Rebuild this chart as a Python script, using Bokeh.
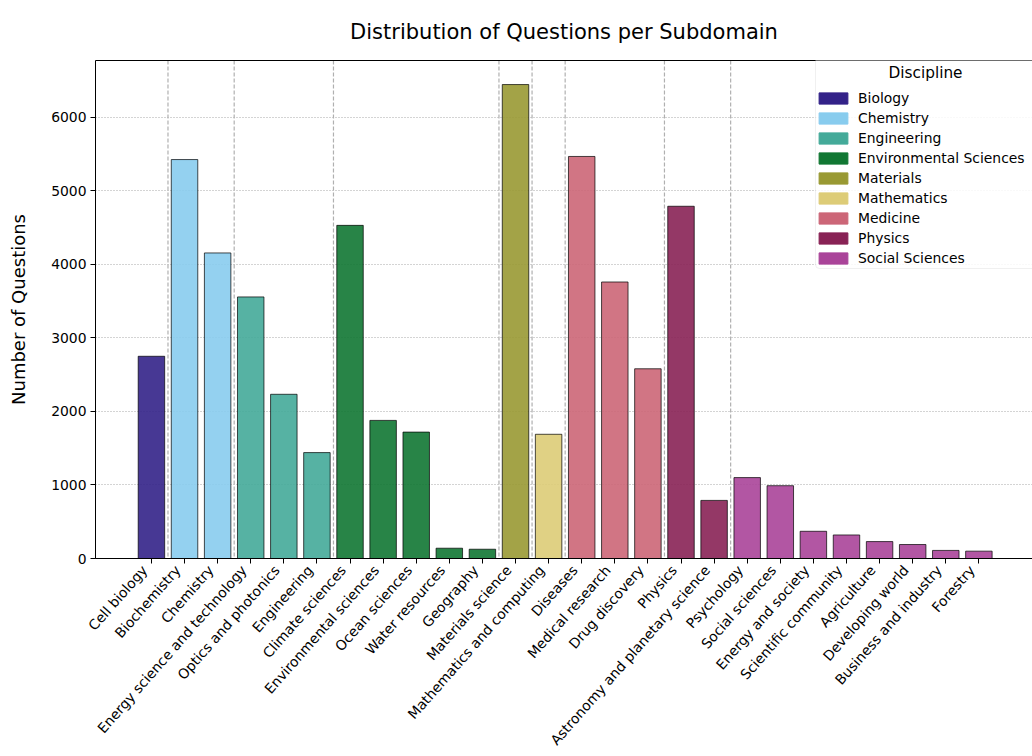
import math
from bokeh.plotting import figure
from bokeh.models import (Range1d, FixedTicker, LinearAxis, Span, Legend,
                          LegendItem, Label, ColumnDataSource, BoxAnnotation,
                          CustomLabelingPolicy)
from bokeh.embed import file_html
from bokeh.resources import INLINE

# ---------------- data ----------------
subdomains = [
    "Cell biology", "Biochemistry", "Chemistry", "Energy science and technology",
    "Optics and photonics", "Engineering", "Climate sciences", "Environmental sciences",
    "Ocean sciences", "Water resources", "Geography", "Materials science",
    "Mathematics and computing", "Diseases", "Medical research", "Drug discovery",
    "Physics", "Astronomy and planetary science", "Psychology", "Social sciences",
    "Energy and society", "Scientific community", "Agriculture", "Developing world",
    "Business and industry", "Forestry",
]
subdomain_discipline = [
    "Biology", "Chemistry", "Chemistry", "Engineering",
    "Engineering", "Engineering", "Environmental Sciences", "Environmental Sciences",
    "Environmental Sciences", "Environmental Sciences", "Environmental Sciences", "Materials",
    "Mathematics", "Medicine", "Medicine", "Medicine",
    "Physics", "Physics", "Social Sciences", "Social Sciences",
    "Social Sciences", "Social Sciences", "Social Sciences", "Social Sciences",
    "Social Sciences", "Social Sciences",
]
question_counts = [
    2750, 5425, 4155, 3557,
    2233, 1440, 4530, 1878,
    1719, 140, 126, 6445,
    1689, 5467, 3760, 2580,
    4790, 790, 1100, 990,
    370, 320, 230, 190,
    110, 100,
]
disciplines = ["Biology", "Chemistry", "Engineering", "Environmental Sciences",
               "Materials", "Mathematics", "Medicine", "Physics", "Social Sciences"]
discipline_colors = ["#332288", "#88CCEE", "#44AA99", "#117733",
                     "#999933", "#DDCC77", "#CC6677", "#882255", "#AA4499"]
y_ticks = [0, 1000, 2000, 3000, 4000, 5000, 6000]
chart_title = "Distribution of Questions per Subdomain"

FONT = "DejaVu Sans"

color_of = dict(zip(disciplines, discipline_colors))
n = len(subdomains)
xs = list(range(n))
bar_colors = [color_of[d] for d in subdomain_discipline]

X0, X1 = -1.69, 26.62
LABEL_SHIFT = 0.21  # rotated labels end slightly left of their tick

p = figure(width=1032, height=756,
           x_range=Range1d(X0, X1), y_range=Range1d(0, 6772),
           output_backend="svg", toolbar_location=None,
           min_border_left=95, min_border_right=0,
           min_border_top=60, min_border_bottom=197)
p.background_fill_color = "white"
p.border_fill_color = "white"
p.outline_line_color = None
p.extra_x_ranges = {"labels": Range1d(X0 + LABEL_SHIFT, X1 + LABEL_SHIFT)}

# title
p.title.text = chart_title
p.title.align = "center"
p.title.text_font = FONT
p.title.text_font_size = "21px"
p.title.text_font_style = "normal"
p.title.text_color = "black"
p.title.standoff = 34

# grids
p.xgrid.visible = False
p.ygrid.ticker = FixedTicker(ticks=y_ticks)
p.ygrid.grid_line_color = "#a8a8a8"
p.ygrid.grid_line_dash = "1 2"
p.ygrid.grid_line_width = 1

# separators between disciplines
for i in range(1, n):
    if subdomain_discipline[i] != subdomain_discipline[i - 1]:
        p.add_layout(Span(location=i - 0.5, dimension="height",
                          line_color="#b0b0b0", line_dash="4 2",
                          line_width=1.2, level="underlay"))

# bars
src = ColumnDataSource(dict(x=xs, top=question_counts, color=bar_colors))
p.vbar(x="x", top="top", bottom=0, width=0.8, source=src,
       fill_color="color", fill_alpha=0.9,
       line_color="black", line_alpha=0.7, line_width=1)

# x axis: line + ticks only (its own labels are filtered out)
no_labels = CustomLabelingPolicy(code="""
const keep = [...indices.ones()]
for (const i of keep) { indices.unset(i) }
return indices
""")
xa = p.below[0]
xa.ticker = FixedTicker(ticks=xs)
xa.major_label_policy = no_labels
xa.major_label_text_font_size = "0px"
xa.major_label_standoff = 0
xa.major_tick_out = 5
xa.major_tick_in = 0
xa.minor_tick_line_color = None
xa.axis_line_color = "black"
xa.major_tick_line_color = "black"

# x axis: rotated category labels
xl = LinearAxis(x_range_name="labels", ticker=FixedTicker(ticks=xs),
                major_label_overrides={i: s for i, s in zip(xs, subdomains)},
                major_label_orientation=0.85,
                major_label_text_font=FONT, major_label_text_font_size="13.9px",
                major_label_text_color="black", major_label_standoff=4,
                major_tick_out=0, major_tick_in=0,
                major_tick_line_color=None, minor_tick_line_color=None,
                axis_line_color=None)
p.add_layout(xl, "below")

ya = p.left[0]
ya.ticker = FixedTicker(ticks=y_ticks)
ya.major_label_text_font = FONT
ya.major_label_text_font_size = "13.9px"
ya.major_label_text_color = "black"
ya.major_label_standoff = 4
ya.major_tick_out = 5
ya.major_tick_in = 0
ya.minor_tick_line_color = None
ya.axis_line_color = "black"
ya.major_tick_line_color = "black"
ya.axis_label = "Number of Questions"
ya.axis_label_text_font = FONT
ya.axis_label_text_font_size = "18px"
ya.axis_label_text_font_style = "normal"
ya.axis_label_text_color = "black"
ya.axis_label_standoff = 19

# top spine
top_axis = LinearAxis(ticker=FixedTicker(ticks=[]), axis_line_color="black",
                      major_tick_line_color=None, minor_tick_line_color=None,
                      major_label_text_font_size="0px")
p.add_layout(top_axis, "above")

# legend frame (drawn separately so the centred title can sit on top)
legend_box = BoxAnnotation(left=720, right=945, bottom=290, top=501,
                           left_units="screen", right_units="screen",
                           bottom_units="screen", top_units="screen",
                           fill_color="white", fill_alpha=0.85,
                           line_color="#cccccc", line_width=1, border_radius=4)
p.add_layout(legend_box)

# legend (dummy renderers placed outside the visible range)
items = []
for d, c in zip(disciplines, discipline_colors):
    r = p.vbar(x=[-100], top=[0], bottom=[0], width=0.8, fill_color=c, line_color=c)
    items.append(LegendItem(label=d, renderers=[r]))
legend = Legend(items=items, location=(720, 290), title=" ",
                title_text_font_size="15.3px", title_standoff=7,
                label_text_font=FONT, label_text_font_size="13.9px",
                label_text_color="black",
                glyph_width=36, glyph_height=14, label_height=20,
                label_standoff=7, spacing=0, padding=3, margin=0,
                border_line_color=None, background_fill_alpha=0)
p.add_layout(legend)

legend_title = Label(x=830, y=486, x_units="screen", y_units="screen",
                     text="Discipline", text_font=FONT, text_font_size="15.3px",
                     text_align="center", text_baseline="middle", text_color="black")
p.add_layout(legend_title)

open("out.html", "w").write(file_html(p, INLINE))
